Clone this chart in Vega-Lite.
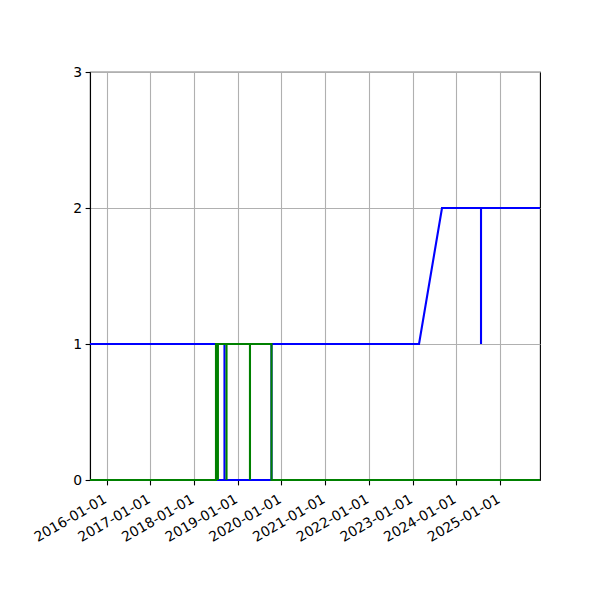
{
  "$schema": "https://vega.github.io/schema/vega-lite/v6.json",
  "width": 450,
  "height": 408,
  "autosize": {"type": "none"},
  "padding": {"left": 90, "top": 72, "right": 60, "bottom": 120},
  "background": "white",
  "config": {
    "font": "DejaVu Sans",
    "view": {"stroke": "black", "strokeWidth": 1.1},
    "axis": {
      "labelFont": "DejaVu Sans",
      "labelFontSize": 13.9,
      "labelColor": "black",
      "domainColor": "black",
      "domainWidth": 1.1,
      "tickColor": "black",
      "tickWidth": 1.1,
      "tickSize": 4.9,
      "labelPadding": 3.5,
      "gridColor": "#b0b0b0",
      "gridWidth": 1.1,
      "gridOpacity": 1,
      "title": null
    }
  },
  "datasets": {
    "blue": [
      {"i": 0, "date": "2015-08-15", "value": 1},
      {"i": 1, "date": "2018-07-04", "value": 1},
      {"i": 2, "date": "2018-07-04", "value": 0},
      {"i": 3, "date": "2018-09-12", "value": 0},
      {"i": 4, "date": "2018-09-12", "value": 1},
      {"i": 5, "date": "2018-09-12", "value": 0},
      {"i": 6, "date": "2019-10-10", "value": 0},
      {"i": 7, "date": "2019-10-10", "value": 1},
      {"i": 8, "date": "2023-02-24", "value": 1},
      {"i": 9, "date": "2023-09-04", "value": 2},
      {"i": 10, "date": "2024-07-26", "value": 2},
      {"i": 11, "date": "2024-07-26", "value": 1},
      {"i": 12, "date": "2024-07-26", "value": 2},
      {"i": 13, "date": "2025-12-01", "value": 2}
    ],
    "green": [
      {"i": 0, "date": "2015-08-15", "value": 0},
      {"i": 1, "date": "2018-07-03", "value": 0},
      {"i": 2, "date": "2018-07-03", "value": 1},
      {"i": 3, "date": "2018-07-19", "value": 1},
      {"i": 4, "date": "2018-07-19", "value": 0},
      {"i": 5, "date": "2018-07-19", "value": 1},
      {"i": 6, "date": "2018-09-29", "value": 1},
      {"i": 7, "date": "2018-09-29", "value": 0},
      {"i": 8, "date": "2018-09-29", "value": 1},
      {"i": 9, "date": "2019-04-13", "value": 1},
      {"i": 10, "date": "2019-04-13", "value": 0},
      {"i": 11, "date": "2019-04-13", "value": 1},
      {"i": 12, "date": "2019-10-10", "value": 1},
      {"i": 13, "date": "2019-10-10", "value": 0},
      {"i": 14, "date": "2025-12-01", "value": 0}
    ]
  },
  "encoding": {
    "x": {
      "field": "date",
      "type": "temporal",
      "scale": {
        "type": "utc",
        "domain": [
          {"year": 2015, "month": 8, "date": 15, "utc": true},
          {"year": 2025, "month": 12, "date": 1, "utc": true}
        ]
      },
      "axis": {
        "format": "%Y-%m-%d",
        "values": [
          {"year": 2016, "month": 1, "date": 1, "utc": true},
          {"year": 2017, "month": 1, "date": 1, "utc": true},
          {"year": 2018, "month": 1, "date": 1, "utc": true},
          {"year": 2019, "month": 1, "date": 1, "utc": true},
          {"year": 2020, "month": 1, "date": 1, "utc": true},
          {"year": 2021, "month": 1, "date": 1, "utc": true},
          {"year": 2022, "month": 1, "date": 1, "utc": true},
          {"year": 2023, "month": 1, "date": 1, "utc": true},
          {"year": 2024, "month": 1, "date": 1, "utc": true},
          {"year": 2025, "month": 1, "date": 1, "utc": true}
        ],
        "labelAngle": -30,
        "labelAlign": "right",
        "labelBaseline": "top",
        "labelPadding": 7,
        "labelOffset": -5,
        "labelFlush": false,
        "labelOverlap": false
      }
    },
    "y": {
      "field": "value",
      "type": "quantitative",
      "scale": {"domain": [0, 3], "nice": false, "zero": false},
      "axis": {"values": [0, 1, 2, 3], "format": "d"}
    },
    "order": {"field": "i", "type": "quantitative"}
  },
  "layer": [
    {
      "data": {"name": "blue"},
      "mark": {"type": "line", "color": "#0000ff", "strokeWidth": 2.1, "clip": false}
    },
    {
      "data": {"name": "green"},
      "mark": {"type": "line", "color": "#008000", "strokeWidth": 2.1, "clip": false}
    }
  ]
}
